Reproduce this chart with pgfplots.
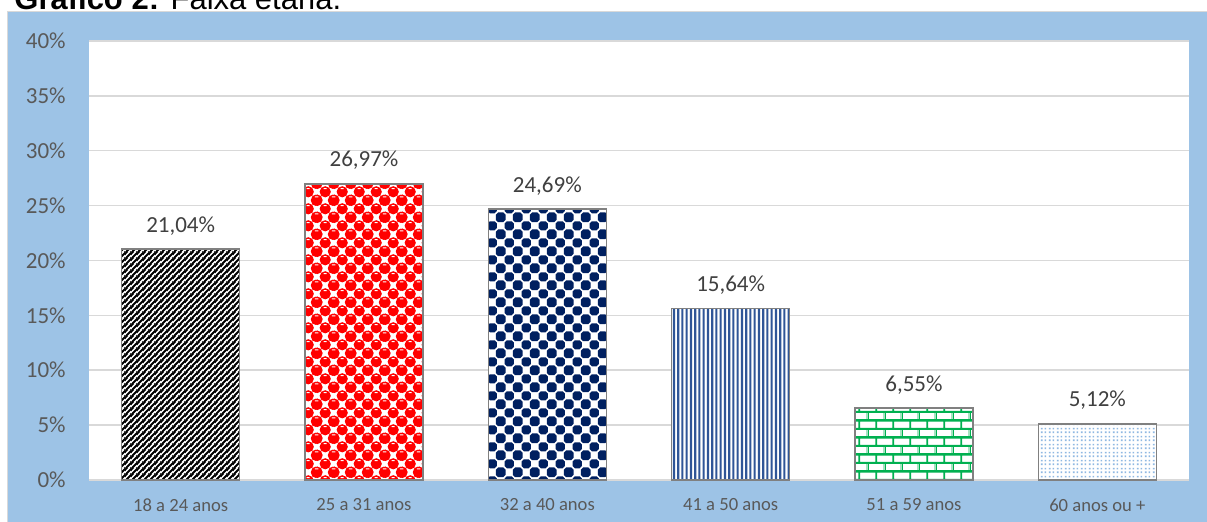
\documentclass[border=0pt]{standalone}
\usepackage{fontspec}
\setmainfont{Carlito}
\newfontfamily\arialfont{Liberation Sans}
\usepackage{pgfplots}
\pgfplotsset{compat=1.18}
\usetikzlibrary{patterns}

\definecolor{bgblue}{HTML}{9DC3E6}
\definecolor{gridgray}{HTML}{D9D9D9}
\definecolor{ticktxt}{HTML}{595959}
\definecolor{lbltxt}{HTML}{404040}
\definecolor{barline}{HTML}{808080}
\definecolor{navy}{HTML}{002060}
\definecolor{vblue}{HTML}{2F5597}
\definecolor{brickgreen}{HTML}{00B050}
\definecolor{dotblue}{HTML}{8FB8E2}
\definecolor{sphred}{HTML}{FF0000}

% helpers for the pattern tiles (tiles are transparent, bars get fill=white underneath)
\newcommand\blob[2]{\pgfpathcircle{\pgfqpoint{#1}{#2}}{2.85pt}}
\newcommand\shine[2]{\pgfpathrectangle{\pgfpointadd{\pgfqpoint{#1}{#2}}{\pgfqpoint{-0.75pt}{1.3pt}}}{\pgfqpoint{1.5pt}{0.55pt}}}
\newcommand\octo[2]{%
  \pgfpathmoveto{\pgfpointadd{\pgfqpoint{#1}{#2}}{\pgfqpoint{-2.3pt}{-1.2pt}}}%
  \pgfpathlineto{\pgfpointadd{\pgfqpoint{#1}{#2}}{\pgfqpoint{-2.3pt}{1.2pt}}}%
  \pgfpathlineto{\pgfpointadd{\pgfqpoint{#1}{#2}}{\pgfqpoint{-1.2pt}{2.3pt}}}%
  \pgfpathlineto{\pgfpointadd{\pgfqpoint{#1}{#2}}{\pgfqpoint{1.2pt}{2.3pt}}}%
  \pgfpathlineto{\pgfpointadd{\pgfqpoint{#1}{#2}}{\pgfqpoint{2.3pt}{1.2pt}}}%
  \pgfpathlineto{\pgfpointadd{\pgfqpoint{#1}{#2}}{\pgfqpoint{2.3pt}{-1.2pt}}}%
  \pgfpathlineto{\pgfpointadd{\pgfqpoint{#1}{#2}}{\pgfqpoint{1.2pt}{-2.3pt}}}%
  \pgfpathlineto{\pgfpointadd{\pgfqpoint{#1}{#2}}{\pgfqpoint{-1.2pt}{-2.3pt}}}%
  \pgfpathclose}
\newcommand\speck[2]{\pgfpathrectangle{\pgfqpoint{#1}{#2}}{\pgfqpoint{0.9pt}{0.9pt}}}

% black diagonal stripes
\pgfdeclarepatterninherentlycolored{xlstripes}{\pgfpointorigin}{\pgfqpoint{3pt}{3pt}}{\pgfqpoint{3pt}{3pt}}{%
  \pgfsetstrokecolor{black}\pgfsetlinewidth{1.15pt}
  \pgfpathmoveto{\pgfqpoint{-6pt}{-3pt}}\pgfpathlineto{\pgfqpoint{3pt}{6pt}}
  \pgfpathmoveto{\pgfqpoint{-3pt}{-3pt}}\pgfpathlineto{\pgfqpoint{6pt}{6pt}}
  \pgfpathmoveto{\pgfqpoint{0pt}{-3pt}}\pgfpathlineto{\pgfqpoint{9pt}{6pt}}
  \pgfusepath{stroke}}

% red spheres (checker of red balls with a white glint)
\pgfdeclarepatterninherentlycolored{xlspheres}{\pgfpointorigin}{\pgfqpoint{8.35pt}{8.35pt}}{\pgfqpoint{8.35pt}{8.35pt}}{%
  \pgfsetfillcolor{sphred}
  \blob{0pt}{0pt}\blob{8.35pt}{0pt}\blob{0pt}{8.35pt}\blob{8.35pt}{8.35pt}\blob{4.175pt}{4.175pt}
  \pgfusepath{fill}
  \pgfsetfillcolor{white}
  \shine{0pt}{0pt}\shine{8.35pt}{0pt}\shine{0pt}{8.35pt}\shine{8.35pt}{8.35pt}\shine{4.175pt}{4.175pt}
  \pgfusepath{fill}}

% navy blobs
\pgfdeclarepatterninherentlycolored{xldiamonds}{\pgfpointorigin}{\pgfqpoint{8.35pt}{8.35pt}}{\pgfqpoint{8.35pt}{8.35pt}}{%
  \pgfsetfillcolor{navy}
  \octo{0pt}{0pt}\octo{8.35pt}{0pt}\octo{0pt}{8.35pt}\octo{8.35pt}{8.35pt}\octo{4.175pt}{4.175pt}
  \pgfusepath{fill}}

% narrow vertical lines
\pgfdeclarepatterninherentlycolored{xlvlines}{\pgfpointorigin}{\pgfqpoint{8.4pt}{200pt}}{\pgfqpoint{8.4pt}{200pt}}{%
  \pgfsetfillcolor{vblue}
  \pgfpathrectangle{\pgfqpoint{0.5pt}{-1pt}}{\pgfqpoint{1.05pt}{202pt}}
  \pgfpathrectangle{\pgfqpoint{2.6pt}{-1pt}}{\pgfqpoint{1.05pt}{202pt}}
  \pgfpathrectangle{\pgfqpoint{4.7pt}{-1pt}}{\pgfqpoint{1.05pt}{202pt}}
  \pgfpathrectangle{\pgfqpoint{6.8pt}{-1pt}}{\pgfqpoint{1.05pt}{202pt}}
  \pgfusepath{fill}}

% green bricks
\pgfdeclarepatterninherentlycolored{xlbricks}{\pgfpointorigin}{\pgfqpoint{8.35pt}{8.5pt}}{\pgfqpoint{8.35pt}{8.5pt}}{%
  \pgfsetstrokecolor{brickgreen}\pgfsetlinewidth{0.95pt}
  \pgfpathmoveto{\pgfqpoint{-1pt}{0pt}}\pgfpathlineto{\pgfqpoint{9.35pt}{0pt}}
  \pgfpathmoveto{\pgfqpoint{-1pt}{4.25pt}}\pgfpathlineto{\pgfqpoint{9.35pt}{4.25pt}}
  \pgfpathmoveto{\pgfqpoint{-1pt}{8.5pt}}\pgfpathlineto{\pgfqpoint{9.35pt}{8.5pt}}
  \pgfpathmoveto{\pgfqpoint{0pt}{-0.5pt}}\pgfpathlineto{\pgfqpoint{0pt}{4.5pt}}
  \pgfpathmoveto{\pgfqpoint{8.35pt}{-0.5pt}}\pgfpathlineto{\pgfqpoint{8.35pt}{4.5pt}}
  \pgfpathmoveto{\pgfqpoint{4.175pt}{4pt}}\pgfpathlineto{\pgfqpoint{4.175pt}{9pt}}
  \pgfusepath{stroke}}

% light blue dots
\pgfdeclarepatterninherentlycolored{xldots}{\pgfpointorigin}{\pgfqpoint{4pt}{4pt}}{\pgfqpoint{4pt}{4pt}}{%
  \pgfsetfillcolor{dotblue}
  \speck{0.55pt}{0.55pt}\speck{2.55pt}{0.55pt}\speck{0.55pt}{2.55pt}\speck{2.55pt}{2.55pt}
  \pgfusepath{fill}}

\begin{document}
\begin{tikzpicture}
\path[use as bounding box] (0,0) rectangle (603.5pt,261pt);
\clip (0,0) rectangle (603.5pt,261pt);
\fill[gridgray] (3.5pt,-2pt) rectangle (610pt,255.5pt);
\fill[bgblue] (4pt,-2pt) rectangle (610pt,255pt);
\node[anchor=base west, inner sep=0pt, font=\arialfont\fontsize{15.5pt}{18pt}\selectfont]
  at (7pt,256pt) {\textbf{Gráfico 2:} Faixa etária.};
\begin{axis}[
    at={(44.5pt,21pt)}, anchor=south west,
    scale only axis,
    width=550pt, height=219.5pt,
    axis background/.style={fill=white},
    ybar, bar width=59pt,
    xmin=-0.5, xmax=5.5,
    ymin=0, ymax=40,
    xtick={0,...,5},
    xticklabels={18 a 24 anos, 25 a 31 anos, 32 a 40 anos, 41 a 50 anos, 51 a 59 anos, 60 anos ou +},
    ytick={0,5,...,40},
    yticklabel={\pgfmathprintnumber{\tick}\%},
    /pgf/number format/assume math mode=true,
    ymajorgrids,
    major grid style={gridgray, line width=0.75pt},
    axis line style={draw=none},
    major tick length=0pt,
    tick label style={text=ticktxt},
    yticklabel style={font=\fontsize{11.5pt}{13pt}\selectfont, anchor=east, inner sep=0pt, xshift=-11.5pt},
    xticklabel style={font=\fontsize{9.3pt}{11pt}\selectfont, anchor=center, inner sep=0pt, yshift=-12.5pt},
    nodes near coords={\pgfmathprintnumber[fixed, fixed zerofill, precision=2, use comma]{\pgfplotspointmeta}\%},
    every node near coord/.append style={font=\fontsize{11.5pt}{13pt}\selectfont, text=lbltxt, anchor=base, inner sep=0pt, yshift=8.5pt},
    bar/.style={draw=barline, line width=0.8pt, fill=white, bar shift=0pt, postaction={pattern=#1}},
    clip=false,
]
\addplot[bar=xlstripes] coordinates {(0,21.04)};
\addplot[bar=xlspheres] coordinates {(1,26.97)};
\addplot[bar=xldiamonds] coordinates {(2,24.69)};
\addplot[bar=xlvlines] coordinates {(3,15.64)};
\addplot[bar=xlbricks] coordinates {(4,6.55)};
\addplot[bar=xldots] coordinates {(5,5.12)};
\end{axis}
\end{tikzpicture}
\end{document}
